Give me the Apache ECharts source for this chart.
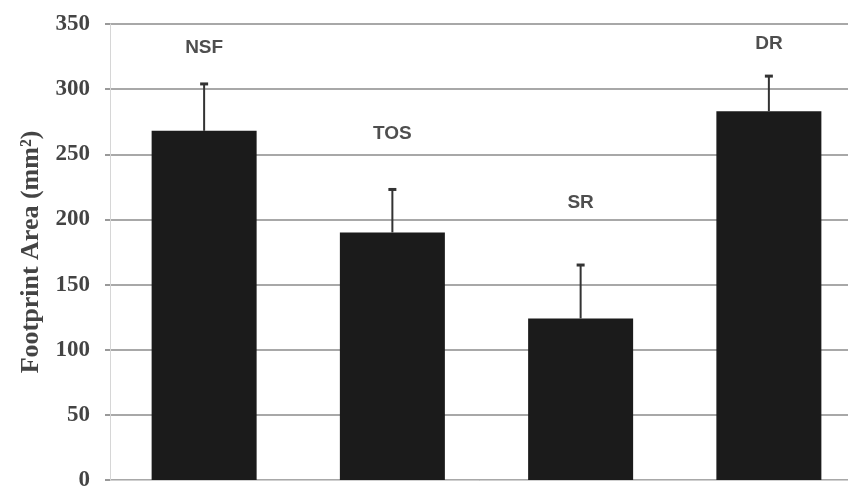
<!DOCTYPE html>
<html>
<head>
<meta charset="utf-8">
<script src="https://cdn.jsdelivr.net/npm/echarts@6/dist/echarts.min.js"></script>
<style>html,body{margin:0;padding:0;background:#fff}#c{width:848px;height:487px}</style>
</head>
<body>
<div id="c"></div>
<script>
var categories = ['NSF', 'TOS', 'SR', 'DR'];
var meanValues = [268, 190, 124, 283];
var upperErrors = [304, 223, 165, 310];
var labelHeights = [332, 266, 213, 335];
var yTicks = [0, 50, 100, 150, 200, 250, 300, 350];

var chart = echarts.init(document.getElementById('c'));
var errData = categories.map(function (c, i) { return [i, meanValues[i], upperErrors[i]]; });
var labelData = categories.map(function (c, i) { return [i, labelHeights[i], c]; });

chart.setOption({
  animation: false,
  grid: { left: 110, top: 24, right: -15, bottom: 7, containLabel: false, outerBoundsMode: 'none' },
  xAxis: {
    type: 'category',
    data: categories,
    axisLine: { show: true, lineStyle: { color: '#cfcfcf', width: 1 } },
    axisTick: { show: false },
    axisLabel: { show: false },
    splitLine: { show: false }
  },
  yAxis: {
    type: 'value',
    min: yTicks[0],
    max: yTicks[yTicks.length - 1],
    interval: 50,
    name: 'Footprint Area (mm\u00B2)',
    nameLocation: 'middle',
    nameRotate: 90,
    nameGap: 64,
    nameTextStyle: { fontFamily: 'Liberation Serif', fontWeight: 'bold', fontSize: 26, color: '#444' },
    axisLine: { show: true, lineStyle: { color: '#d6d6d6', width: 1 } },
    axisTick: { show: true, length: 5, lineStyle: { color: '#999', width: 2 } },
    axisLabel: { margin: 20, fontFamily: 'Liberation Serif', fontWeight: 'bold', fontSize: 23, color: '#444' },
    splitLine: { show: true, lineStyle: { color: '#a8a8a8', width: 2 } }
  },
  series: [
    {
      type: 'bar',
      data: meanValues,
      barWidth: 105,
      itemStyle: { color: '#1b1b1b' },
      z: 2
    },
    {
      type: 'custom',
      data: errData,
      z: 3,
      renderItem: function (params, api) {
        var x = api.value(0);
        var lo = api.coord([x, api.value(1)]);
        var hi = api.coord([x, api.value(2)]);
        var hw = 4;
        return {
          type: 'group',
          children: [
            { type: 'line', shape: { x1: lo[0], y1: lo[1], x2: hi[0], y2: hi[1] }, style: { stroke: '#333', lineWidth: 2 } },
            { type: 'line', shape: { x1: hi[0] - hw, y1: hi[1], x2: hi[0] + hw, y2: hi[1] }, style: { stroke: '#333', lineWidth: 3 } }
          ]
        };
      }
    },
    {
      type: 'scatter',
      data: labelData,
      symbolSize: 0,
      silent: true,
      label: {
        show: true,
        position: 'inside',
        formatter: function (p) { return p.value[2]; },
        fontFamily: 'Liberation Sans',
        fontWeight: 'bold',
        fontSize: 19,
        color: '#222'
      }
    }
  ]
});
</script>
</body>
</html>
